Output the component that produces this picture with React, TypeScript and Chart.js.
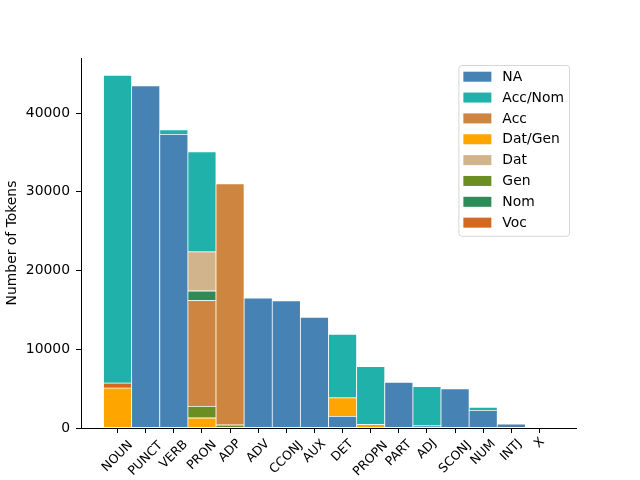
import React, { useEffect, useRef } from 'react';
import { Chart, registerables } from 'chart.js';

Chart.register(...registerables);

const categories = ['NOUN', 'PUNCT', 'VERB', 'PRON', 'ADP', 'ADV', 'CCONJ', 'AUX', 'DET', 'PROPN', 'PART', 'ADJ', 'SCONJ', 'NUM', 'INTJ', 'X'];

// token counts per category (0 = absent / not visible)
const naValues = [0, 43450, 37300, 0, 0, 16510, 16150, 14050, 1480, 0, 5810, 280, 4970, 2240, 500, 0];
const datGenValues = [5070, 0, 0, 1270, 0, 0, 0, 0, 2340, 420, 0, 0, 0, 0, 0, 0];
const genValues = [0, 0, 0, 1480, 380, 0, 0, 0, 0, 0, 0, 0, 0, 0, 0, 0];
const vocValues = [640, 0, 0, 0, 0, 0, 0, 0, 0, 0, 0, 0, 0, 0, 0, 0];
const accValues = [0, 0, 0, 13430, 30650, 0, 0, 0, 0, 0, 0, 0, 0, 0, 0, 0];
const nomValues = [0, 0, 0, 1220, 0, 0, 0, 0, 0, 0, 0, 0, 0, 0, 0, 0];
const datValues = [0, 0, 0, 4970, 0, 0, 0, 0, 0, 0, 0, 0, 0, 0, 0, 0];
const accNomValues = [39080, 0, 570, 12700, 0, 0, 0, 0, 8070, 7390, 0, 4980, 0, 380, 0, 0];

const yTickValues = [0, 10000, 20000, 30000, 40000];
const legendOrder = ['NA', 'Acc/Nom', 'Acc', 'Dat/Gen', 'Dat', 'Gen', 'Nom', 'Voc'];

// stacking order (bottom to top)
const seriesDefs = [
  { label: 'NA', values: naValues, color: '#4682B4' },
  { label: 'Dat/Gen', values: datGenValues, color: '#FFA500' },
  { label: 'Gen', values: genValues, color: '#6B8E23' },
  { label: 'Voc', values: vocValues, color: '#D2691E' },
  { label: 'Acc', values: accValues, color: '#CD853F' },
  { label: 'Nom', values: nomValues, color: '#2E8B57' },
  { label: 'Dat', values: datValues, color: '#D2B48C' },
  { label: 'Acc/Nom', values: accNomValues, color: '#20B2AA' },
];

const FAMILY = '"DejaVu Sans", sans-serif';

const xLabelPlugin = {
  id: 'xLabels',
  afterDraw(chart: any) {
    const ctx = chart.ctx;
    const xs = chart.scales.x;
    const bottom = chart.chartArea.bottom;
    ctx.save();
    ctx.font = `12.5px ${FAMILY}`;
    ctx.fillStyle = '#000';
    ctx.textAlign = 'center';
    ctx.textBaseline = 'middle';
    categories.forEach((c, i) => {
      const x = xs.getPixelForValue(i);
      const w = ctx.measureText(c).width;
      const y = bottom + 11 + 0.46 * w;
      ctx.save();
      ctx.translate(x, y);
      ctx.rotate(-Math.PI / 4);
      ctx.fillText(c, 0, 0);
      ctx.restore();
    });
    ctx.restore();
  },
};

const legendPlugin = {
  id: 'mplLegend',
  afterDraw(chart: any) {
    const ctx = chart.ctx;
    const area = chart.chartArea;
    const fs = 13.9;
    ctx.save();
    ctx.font = `${fs}px ${FAMILY}`;
    const items = legendOrder.map((name) => chart.data.datasets.find((d: any) => d.label === name));
    const textW = Math.max(...items.map((d: any) => ctx.measureText(d.label).width));
    const pad = 5, handleW = 28, handleH = 10, gap = 11, rowH = 20.85;
    const boxW = pad + handleW + gap + textW + pad;
    const boxH = rowH * items.length + 4;
    const right = area.right - 7;
    const top = area.top + 7;
    const left = right - boxW;
    ctx.beginPath();
    if (ctx.roundRect) ctx.roundRect(left + 0.5, top + 0.5, boxW, boxH, 3);
    else ctx.rect(left + 0.5, top + 0.5, boxW, boxH);
    ctx.fillStyle = 'rgba(255,255,255,0.8)';
    ctx.fill();
    ctx.strokeStyle = 'rgba(204,204,204,0.8)';
    ctx.lineWidth = 1;
    ctx.stroke();
    items.forEach((d: any, i: number) => {
      const cy = top + 11.7 + i * rowH;
      ctx.fillStyle = d.backgroundColor;
      ctx.fillRect(left + pad, cy - handleH / 2, handleW, handleH);
      ctx.fillStyle = '#000';
      ctx.textAlign = 'left';
      ctx.textBaseline = 'middle';
      ctx.fillText(d.label, left + pad + handleW + gap, cy + 0.5);
    });
    ctx.restore();
  },
};

export default function App() {
  const canvasRef = useRef<HTMLCanvasElement | null>(null);

  useEffect(() => {
    if (!canvasRef.current) return;
    Chart.defaults.font.family = FAMILY;
    Chart.defaults.color = '#000';

    const datasets = seriesDefs.map((s) => ({
      label: s.label,
      data: s.values
        .map((v, i) => (v > 0 ? { x: i, y: v } : null))
        .filter((p) => p !== null) as { x: number; y: number }[],
      backgroundColor: s.color,
      borderColor: '#ffffff',
      borderWidth: 0.75,
      borderSkipped: false,
      barPercentage: 1,
      categoryPercentage: 1,
    }));

    const chart = new Chart(canvasRef.current, {
      type: 'bar',
      data: { datasets },
      options: {
        responsive: false,
        animation: false,
        events: [],
        layout: { padding: { left: 0, right: 64, top: 58, bottom: 0 } },
        plugins: {
          legend: { display: false },
          tooltip: { enabled: false },
        },
        scales: {
          x: {
            type: 'linear',
            min: -1.3,
            max: 16.3,
            stacked: true,
            offset: false,
            afterBuildTicks: (s: any) => {
              s.ticks = categories.map((_, i) => ({ value: i }));
            },
            afterFit: (s: any) => {
              s.height = 52;
            },
            grid: {
              display: true,
              offset: false,
              drawOnChartArea: false,
              drawTicks: true,
              tickLength: 5,
              color: '#000',
              lineWidth: 1,
            },
            border: { display: true, color: '#000', width: 1 },
            ticks: { display: false },
          },
          y: {
            type: 'linear',
            min: 0,
            max: 47000,
            stacked: true,
            afterBuildTicks: (s: any) => {
              s.ticks = yTickValues.map((v) => ({ value: v }));
            },
            afterFit: (s: any) => {
              s.width = 81;
            },
            grid: {
              display: true,
              drawOnChartArea: false,
              drawTicks: true,
              tickLength: 5,
              color: '#000',
              lineWidth: 1,
            },
            border: { display: true, color: '#000', width: 1 },
            ticks: {
              color: '#000',
              font: { size: 13.9, family: FAMILY },
              padding: 6,
              callback: (v: any) => String(v),
            },
            title: {
              display: true,
              text: 'Number of Tokens',
              color: '#000',
              font: { size: 13.9, family: FAMILY },
              padding: { top: 4, bottom: 4 },
            },
          },
        },
      } as any,
      plugins: [xLabelPlugin, legendPlugin],
    });

    return () => chart.destroy();
  }, []);

  return (
    <div style={{ position: 'absolute', left: 0, top: 0, width: 640, height: 480, background: '#fff' }}>
      <canvas ref={canvasRef} width={640} height={480} style={{ display: 'block' }} />
    </div>
  );
}
